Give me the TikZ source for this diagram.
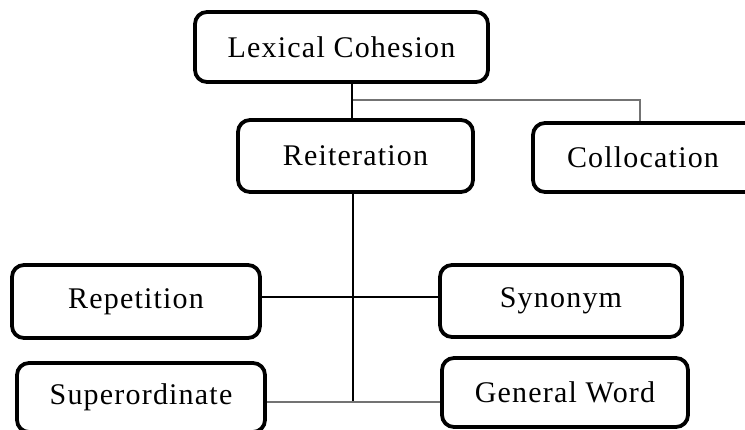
\documentclass[tikz,border=0pt]{standalone}
\usepackage{fontspec}
\setmainfont[LetterSpace=4]{Liberation Serif}
\begin{document}
\begin{tikzpicture}[x=1pt,y=-1pt,
  lbl/.style={inner sep=0pt,font=\fontsize{30}{34}\selectfont},
  box/.style={lbl,draw=black,line width=3.8pt,rounded corners=12pt,fill=white},
  link/.style={draw=black,line width=1.3pt},
  glink/.style={draw=black!55,line width=1.6pt}]
\useasboundingbox (0,0) rectangle (745,430);
\node[box,minimum width=293pt,minimum height=70pt] (lex) at (341.5,47) {Lexical Cohesion};
\node[box,minimum width=235pt,minimum height=72pt] (rei) at (355.5,156) {Reiteration};
\node[box,minimum width=240pt,minimum height=69pt] (col) at (653,157.5) {};
\node[lbl] (coltext) at (643,157.5) {Collocation};
\node[box,minimum width=248pt,minimum height=73pt] (rep) at (136,301.5) {Repetition};
\node[box,minimum width=242pt,minimum height=72pt] (syn) at (561,301) {Synonym};
\node[box,minimum width=248pt,minimum height=69pt] (sup) at (141,397.5) {Superordinate};
\node[box,minimum width=246pt,minimum height=69pt] (gen) at (565,392.5) {General Word};
\coordinate (a) at (352,100);
\coordinate (b) at (640,100);
\coordinate (c) at (353,403);
\coordinate (r) at (0,297);
\coordinate (s) at (0,402);
\draw[link] (a |- lex.south) -- (a |- rei.north);
\draw[glink] ([xshift=1pt]a) -- (b) -- (b |- col.north);
\draw[link] (c |- rei.south) -- (c);
\draw[link] (rep.east |- r) -- (syn.west |- r);
\draw[glink] (sup.east |- s) -- (gen.west |- s);
\end{tikzpicture}
\end{document}
